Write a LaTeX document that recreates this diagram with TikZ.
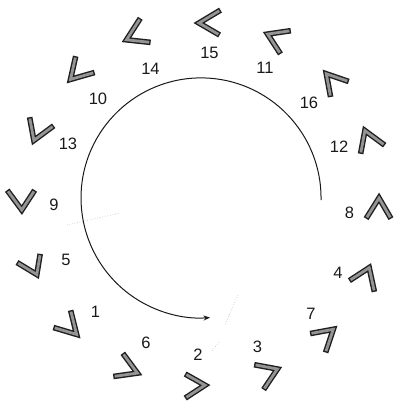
\documentclass[tikz,border=0pt]{standalone}
\usepackage{fontspec}
\setmainfont{Liberation Sans}
\usetikzlibrary{arrows.meta}
\begin{document}
\begin{tikzpicture}[x=1pt,y=-1pt,
  chevout/.style={draw=black!88,line width=5.6pt,line join=miter,miter limit=20,line cap=butt},
  chevin/.style={draw=black!42,line width=2.8pt,line join=miter,miter limit=20,line cap=butt,shorten <=1.4pt,shorten >=1.4pt},
  lbl/.style={font=\fontsize{16.5}{18}\selectfont,inner sep=0pt,text=black!90},
  arcline/.style={draw=black!90,line width=1pt},
  artifact/.style={draw=black!30,dotted,line width=0.6pt}]
\useasboundingbox (0,0) rectangle (395,402);
\newcommand{\chev}[3]{\draw[chevout] #1 -- #2 -- #3; \draw[chevin] #1 -- #2 -- #3;}
% chevrons
\chev{(220.5,10.1)}{(199,23)}{(219.6,35)}
\chev{(140.3,18.3)}{(126.5,39.8)}{(150.6,42.4)}
\chev{(290.8,30.7)}{(267.6,34.1)}{(280.5,53.9)}
\chev{(75.7,56.2)}{(70.5,79.4)}{(94.6,72.5)}
\chev{(348.7,81.5)}{(326.3,73.8)}{(330.6,97)}
\chev{(29.6,117.2)}{(33.9,140.4)}{(53.7,125.8)}
\chev{(384.7,145.2)}{(364.9,130.6)}{(360.6,153.8)}
\chev{(7.2,190.2)}{(21.8,210)}{(34.7,190.2)}
\chev{(366.1,218.6)}{(379,198)}{(391,218.6)}
\chev{(40.2,253.9)}{(36.8,274.5)}{(17,262.5)}
\chev{(349.4,280.6)}{(369.2,267.7)}{(374.4,291.8)}
\chev{(70.6,310.3)}{(76.6,334.4)}{(53.4,327.5)}
\chev{(310.1,333.6)}{(333.3,329.3)}{(325.6,352.5)}
\chev{(122.8,353.3)}{(137.4,373.1)}{(113.3,376.5)}
\chev{(254.2,364.7)}{(277.4,369)}{(263.6,389.6)}
\chev{(185.2,374)}{(205,385.2)}{(185.2,398.1)}
% labels
\node[lbl] (l15) at (209.5,53) {15};
\node[lbl] (l14) at (150.5,68.5) {14};
\node[lbl] (l11) at (265,68) {11};
\node[lbl] (l10) at (98,99) {10};
\node[lbl] (l16) at (309,103) {16};
\node[lbl] (l13) at (68,144) {13};
\node[lbl] (l12) at (339,147) {12};
\node[lbl] (l9) at (54,204.5) {9};
\node[lbl] (l8) at (349.5,212.5) {8};
\node[lbl] (l5) at (66,260) {5};
\node[lbl] (l4) at (338,272.5) {4};
\node[lbl] (l1) at (95.5,311.5) {1};
\node[lbl] (l7) at (311,313.5) {7};
\node[lbl] (l6) at (146,343) {6};
\node[lbl] (l3) at (257.5,346.5) {3};
\node[lbl] (l2) at (198,355) {2};
% arc arrow
\coordinate (arcstart) at (321,200);
\draw[arcline,-{Stealth[length=6.5pt,width=5pt]}] (arcstart) arc[start angle=-1,end angle=274.3,radius=120pt];
% faint scan artifacts
\draw[artifact] (67,225) -- (120,213);
\draw[artifact] (238,295) -- (225,325);
\draw[artifact] (219,342) -- (211,352);
\end{tikzpicture}
\end{document}
